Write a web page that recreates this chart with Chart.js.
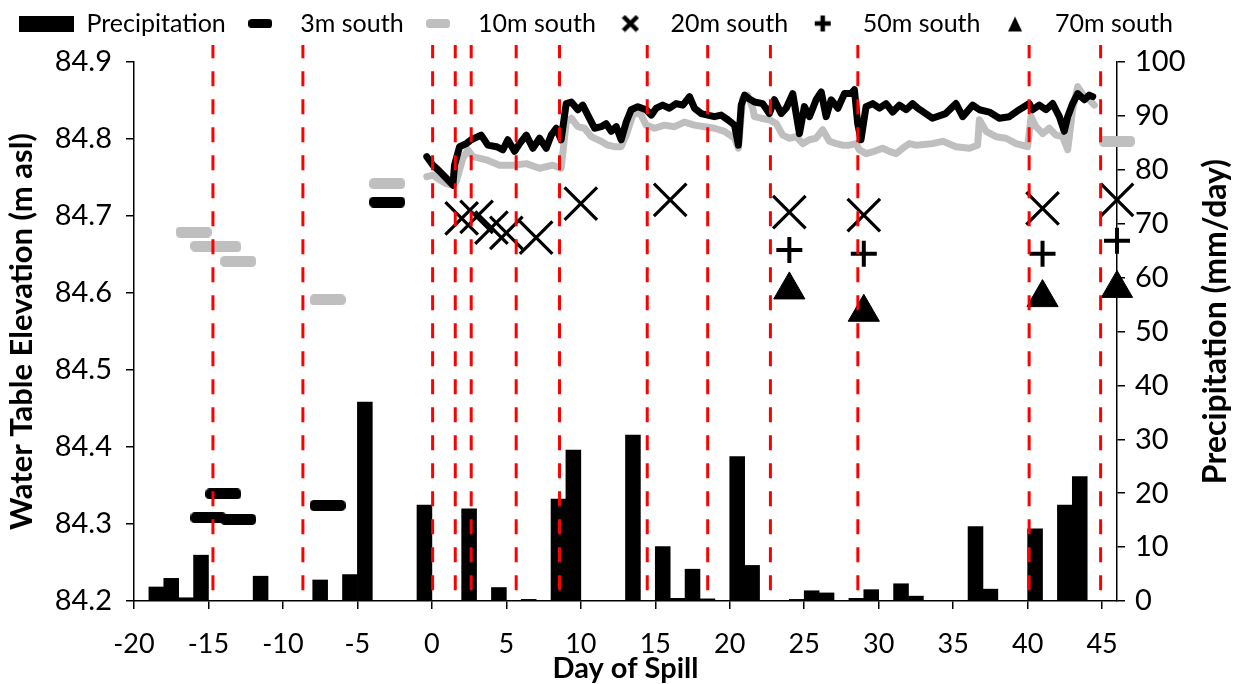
<!DOCTYPE html>
<html>
<head>
<meta charset="utf-8">
<script src="https://cdn.jsdelivr.net/npm/chart.js@4.4.0/dist/chart.umd.min.js"></script>
<style>
  html, body { margin: 0; padding: 0; background: #fff; }
  #wrap { width: 1239px; height: 684px; }
</style>
</head>
<body>
<div id="wrap"><canvas id="canvas-spill"></canvas></div>
<script>
// tick labels
const xTicks = [-20, -15, -10, -5, 0, 5, 10, 15, 20, 25, 30, 35, 40, 45];
const elevTicks = [84.2, 84.3, 84.4, 84.5, 84.6, 84.7, 84.8, 84.9];
const precipTicks = [0, 10, 20, 30, 40, 50, 60, 70, 80, 90, 100];

// daily precipitation (bar centres, mm/day)
const precipDays = [-18.5, -17.5, -16.5, -15.5, -11.5, -7.5, -5.5, -4.5, -0.5, 2.5, 4.5, 6.5, 8.5, 9.5, 13.5,
  15.5, 16.5, 17.5, 18.5, 20.5, 21.5, 24.5, 25.5, 26.5, 28.5, 29.5, 31.5, 32.5, 36.5, 37.5, 40.5, 42.5, 43.5];
const precipMm = [2.6, 4.2, 0.6, 8.5, 4.6, 3.9, 4.9, 36.9, 17.8, 17.1, 2.5, 0.3, 18.9, 28.0, 30.8,
  10.1, 0.5, 5.9, 0.4, 26.8, 6.6, 0.3, 1.9, 1.5, 0.5, 2.1, 3.2, 0.9, 13.8, 2.2, 13.4, 17.8, 23.1];

// 3m south logger
const south3Days = [-0.34, 0.07, 0.52, 0.97, 1.41, 1.52, 1.86, 2.31, 2.64, 3.31, 3.76, 4.34, 4.77, 5.10, 5.55, 5.89,
  6.34, 6.78, 7.23, 7.68, 8.01, 8.35, 8.68, 9.02, 9.36, 9.80, 10.13, 10.47, 10.92, 11.37, 11.70, 12.04, 12.38, 12.71,
  13.05, 13.38, 13.83, 14.39, 14.73, 15.06, 15.50, 15.95, 16.40, 16.85, 17.30, 17.63, 18.08, 18.52, 18.97, 19.42,
  19.87, 20.32, 20.58, 20.77, 21.00, 21.32, 21.66, 22.21, 22.66, 23.00, 23.45, 23.79, 24.23, 24.68, 25.01, 25.35,
  25.80, 26.14, 26.47, 26.81, 27.26, 27.70, 28.15, 28.37, 28.59, 28.81, 29.15, 29.60, 30.05, 30.50, 30.94, 31.39,
  31.84, 32.28, 32.62, 33.60, 34.50, 35.19, 35.64, 36.31, 36.76, 37.43, 38.10, 38.77, 39.44, 40.11, 40.34, 40.78,
  41.23, 41.68, 42.13, 42.46, 42.69, 43.02, 43.36, 43.81, 44.14, 44.37];
const south3Elev = [84.777, 84.766, 84.758, 84.749, 84.740, 84.766, 84.790, 84.794, 84.799, 84.805, 84.792, 84.790,
  84.786, 84.799, 84.784, 84.794, 84.805, 84.788, 84.801, 84.788, 84.805, 84.814, 84.799, 84.846, 84.848, 84.838,
  84.844, 84.831, 84.814, 84.816, 84.820, 84.810, 84.816, 84.799, 84.822, 84.838, 84.842, 84.838, 84.831, 84.840,
  84.844, 84.840, 84.846, 84.844, 84.855, 84.840, 84.833, 84.831, 84.829, 84.831, 84.825, 84.818, 84.792, 84.844,
  84.857, 84.852, 84.848, 84.846, 84.833, 84.851, 84.833, 84.840, 84.859, 84.807, 84.842, 84.829, 84.851, 84.861,
  84.829, 84.851, 84.840, 84.859, 84.859, 84.864, 84.820, 84.799, 84.842, 84.846, 84.840, 84.846, 84.835, 84.844,
  84.838, 84.846, 84.840, 84.827, 84.833, 84.846, 84.829, 84.844, 84.838, 84.835, 84.827, 84.829, 84.838, 84.846,
  84.838, 84.844, 84.838, 84.846, 84.829, 84.810, 84.829, 84.846, 84.859, 84.851, 84.857, 84.855];

// 10m south logger
const south10Days = [-0.34, 0.07, 0.52, 0.97, 1.41, 1.64, 2.08, 2.42, 2.75, 3.65, 4.54, 5.44, 6.34, 7.23, 8.12, 8.68,
  9.02, 9.36, 9.80, 10.25, 10.70, 11.37, 11.81, 12.26, 12.71, 13.05, 13.49, 13.94, 14.39, 14.95, 15.62, 16.29, 16.96,
  17.63, 18.30, 18.97, 19.64, 20.32, 20.58, 20.87, 21.20, 21.54, 21.66, 22.11, 22.66, 23.12, 23.56, 24.01, 24.46,
  24.90, 25.35, 25.80, 26.24, 26.69, 27.14, 27.58, 28.03, 28.48, 28.70, 29.15, 29.71, 30.27, 30.72, 31.17, 31.61,
  32.06, 32.51, 33.60, 34.30, 35.19, 36.09, 36.64, 36.76, 37.21, 37.88, 38.55, 39.22, 40.00, 40.23, 40.56, 41.01,
  41.45, 41.90, 42.35, 42.69, 43.02, 43.36, 43.81, 44.14, 44.48];
const south10Elev = [84.751, 84.753, 84.747, 84.742, 84.740, 84.745, 84.775, 84.786, 84.777, 84.773, 84.766, 84.766,
  84.768, 84.762, 84.766, 84.762, 84.822, 84.827, 84.816, 84.814, 84.803, 84.797, 84.792, 84.790, 84.790, 84.805,
  84.831, 84.835, 84.818, 84.814, 84.818, 84.816, 84.822, 84.818, 84.816, 84.814, 84.810, 84.801, 84.788, 84.853,
  84.857, 84.840, 84.829, 84.827, 84.825, 84.820, 84.805, 84.801, 84.803, 84.794, 84.799, 84.801, 84.812, 84.797,
  84.794, 84.792, 84.792, 84.794, 84.786, 84.781, 84.784, 84.788, 84.784, 84.781, 84.788, 84.794, 84.792, 84.794,
  84.797, 84.790, 84.788, 84.792, 84.825, 84.810, 84.803, 84.801, 84.794, 84.790, 84.829, 84.816, 84.807, 84.814,
  84.805, 84.803, 84.786, 84.838, 84.868, 84.855, 84.851, 84.844];

// manual readings
const manual3Days = [-15, -14, -13, -7, -3];
const manual3Elev = [84.308, 84.339, 84.306, 84.324, 84.718];
const manual10Days = [-16, -15, -14, -13, -7, -3, 46];
const manual10Elev = [84.679, 84.661, 84.660, 84.641, 84.591, 84.742, 84.797];
const south20Days = [2, 3, 4, 5, 7, 10, 16, 24, 29, 41, 46];
const south20Elev = [84.697, 84.699, 84.685, 84.678, 84.672, 84.716, 84.721, 84.705, 84.701, 84.710, 84.721];
const south50Days = [24, 29, 41, 46];
const south50Elev = [84.656, 84.651, 84.651, 84.668];
const south70Days = [24, 29, 41, 46];
const south70Elev = [84.604, 84.575, 84.594, 84.606];

// event markers (red dashed)
const eventDays = [-14.7, -8.66, 0.05, 1.57, 2.64, 5.66, 8.57, 14.46, 18.52, 22.73, 28.6, 40.1, 44.9];

const legendNames = ["Precipitation", "3m south", "10m south", "20m south", "50m south", "70m south"];

function pts(xs, ys) {
  return xs.map((x, i) => ({ x: x, y: ys[i] }));
}

function icon(w, h, draw) {
  const c = document.createElement("canvas");
  c.width = w;
  c.height = h;
  draw(c.getContext("2d"), w, h);
  return c;
}

function pill(color, w, h) {
  return icon(w, h, (g) => {
    g.fillStyle = color;
    g.beginPath();
    g.roundRect(0, 0, w, h, h / 2.5);
    g.fill();
  });
}

window.onload = function () {
  const ctx = document.getElementById("canvas-spill");
  Chart.defaults.font.family = "Lato";
  Chart.defaults.color = "#000";

  const dashBlack = pill("#000", 36, 11);
  const dashGray = pill("#bfbfbf", 36, 11);

  const legendIcons = [
    icon(55, 16, (g, w, h) => { g.fillStyle = "#000"; g.fillRect(0, 0, w, h); }),
    pill("#000", 24, 9),
    pill("#bfbfbf", 24, 9),
    icon(18, 18, (g) => {
      g.strokeStyle = "#000"; g.lineWidth = 4.5;
      g.beginPath(); g.moveTo(2, 2); g.lineTo(16, 16); g.moveTo(16, 2); g.lineTo(2, 16); g.stroke();
    }),
    icon(18, 18, (g) => {
      g.strokeStyle = "#000"; g.lineWidth = 4.5;
      g.beginPath(); g.moveTo(1, 9); g.lineTo(17, 9); g.moveTo(9, 1); g.lineTo(9, 17); g.stroke();
    }),
    icon(18, 18, (g) => {
      g.fillStyle = "#000";
      g.beginPath(); g.moveTo(9, 2); g.lineTo(16, 17); g.lineTo(2, 17); g.closePath(); g.fill();
    }),
  ];

  const eventData = [];
  eventDays.forEach((d) => {
    eventData.push({ x: d, y: 84.214 }, { x: d, y: 84.922 }, { x: d, y: null });
  });

  const data = {
    datasets: [
      {
        type: "line",
        label: "events",
        data: eventData,
        borderColor: "#ff0000",
        borderWidth: 3,
        borderDash: [15, 13],
        pointRadius: 0,
        spanGaps: false,
        clip: false,
        order: 0,
      },
      {
        type: "scatter",
        label: "70m south",
        data: pts(south70Days, south70Elev),
        pointStyle: "triangle",
        pointRadius: 18,
        backgroundColor: "#000",
        borderColor: "#000",
        borderWidth: 1,
        clip: false,
        order: 1,
      },
      {
        type: "scatter",
        label: "50m south",
        data: pts(south50Days, south50Elev),
        pointStyle: "cross",
        pointRadius: 13,
        borderColor: "#000",
        borderWidth: 4,
        clip: false,
        order: 1,
      },
      {
        type: "scatter",
        label: "20m south",
        data: pts(south20Days, south20Elev),
        pointStyle: "crossRot",
        pointRadius: 23,
        borderColor: "#000",
        borderWidth: 3.2,
        clip: false,
        order: 1,
      },
      {
        type: "scatter",
        label: "3m manual",
        data: pts(manual3Days, manual3Elev),
        pointStyle: dashBlack,
        clip: false,
        order: 1,
      },
      {
        type: "scatter",
        label: "10m manual",
        data: pts(manual10Days, manual10Elev),
        pointStyle: dashGray,
        clip: false,
        order: 1,
      },
      {
        type: "line",
        label: "3m south",
        data: pts(south3Days, south3Elev),
        borderColor: "#000",
        borderWidth: 7,
        borderJoinStyle: "round",
        borderCapStyle: "round",
        pointRadius: 0,
        tension: 0,
        order: 2,
      },
      {
        type: "line",
        label: "10m south",
        data: pts(south10Days, south10Elev),
        borderColor: "#bfbfbf",
        borderWidth: 7,
        borderJoinStyle: "round",
        borderCapStyle: "round",
        pointRadius: 0,
        tension: 0,
        order: 3,
      },
      {
        type: "bar",
        label: "Precipitation",
        data: pts(precipDays, precipMm),
        yAxisID: "y2",
        backgroundColor: "#000",
        borderWidth: 0,
        barPercentage: 1,
        categoryPercentage: 1,
        order: 4,
      },
    ],
  };

  const axisLine = { display: true, color: "#000", width: 1.5 };
  const tickGrid = { display: true, drawOnChartArea: false, drawTicks: true, tickLength: 8, color: "#000", lineWidth: 1.5 };

  const rightTitle = {
    id: "rightTitle",
    afterDraw(chart) {
      const s = chart.scales.y2;
      const g = chart.ctx;
      g.save();
      g.translate(s.right - 23, (chart.chartArea.top + chart.chartArea.bottom) / 2 - 10);
      g.rotate(-Math.PI / 2);
      g.font = "bold 32px Lato";
      g.fillStyle = "#000";
      g.textAlign = "center";
      g.textBaseline = "middle";
      g.fillText("Precipitation (mm/day)", 0, 0);
      g.restore();
    },
  };

  const legendHeight = {
    id: "legendHeight",
    beforeInit(chart) {
      const fit = chart.legend.fit;
      chart.legend.fit = function () {
        fit.bind(chart.legend)();
        this.height = 58;
      };
    },
  };

  const config = {
    type: "bar",
    data,
    options: {
      responsive: true,
      maintainAspectRatio: false,
      animation: false,
      layout: { padding: { left: 12, right: 0, top: 4, bottom: 0 } },
      scales: {
        x: {
          type: "linear",
          min: -20,
          max: 46,
          offset: false,
          border: axisLine,
          grid: Object.assign({ offset: false }, tickGrid),
          afterBuildTicks: (s) => { s.ticks = xTicks.map((v) => ({ value: v })); },
          afterFit: (s) => { s.height = 83; },
          ticks: { font: { size: 27 }, padding: 19, maxRotation: 0, autoSkip: false },
          title: {
            display: true,
            text: "Day of Spill",
            font: { size: 29, weight: "bold", lineHeight: 1 },
            padding: { top: 0, bottom: 1 },
          },
        },
        y: {
          position: "left",
          min: 84.2,
          max: 84.9,
          border: axisLine,
          grid: tickGrid,
          afterBuildTicks: (s) => { s.ticks = elevTicks.map((v) => ({ value: v })); },
          afterFit: (s) => { s.width = 122; },
          ticks: { font: { size: 29 }, padding: 14, callback: (v) => v.toFixed(1) },
          title: {
            display: true,
            text: "Water Table Elevation (m asl)",
            font: { size: 31, weight: "bold", lineHeight: 1 },
            padding: { top: -6, bottom: 0 },
          },
        },
        y2: {
          position: "right",
          min: 0,
          max: 100,
          border: axisLine,
          grid: tickGrid,
          afterBuildTicks: (s) => { s.ticks = precipTicks.map((v) => ({ value: v })); },
          afterFit: (s) => { s.width = 122; },
          ticks: { font: { size: 29 }, padding: 10 },
        },
      },
      plugins: {
        tooltip: { enabled: false },
        legend: {
          display: true,
          position: "top",
          align: "start",
          onClick: null,
          labels: {
            usePointStyle: true,
            pointStyleWidth: 55,
            boxHeight: 16,
            padding: 7,
            color: "#000",
            font: { size: 25, lineHeight: 1 },
            generateLabels: () => legendNames.map((text, i) => ({
              text,
              pointStyle: legendIcons[i],
              fillStyle: "#000",
              strokeStyle: "#000",
              lineWidth: 0,
              hidden: false,
              fontColor: "#000",
              datasetIndex: i,
            })),
          },
        },
      },
    },
    plugins: [legendHeight, rightTitle],
  };

  const spillChart = new Chart(ctx, config);
};
</script>
</body>
</html>
